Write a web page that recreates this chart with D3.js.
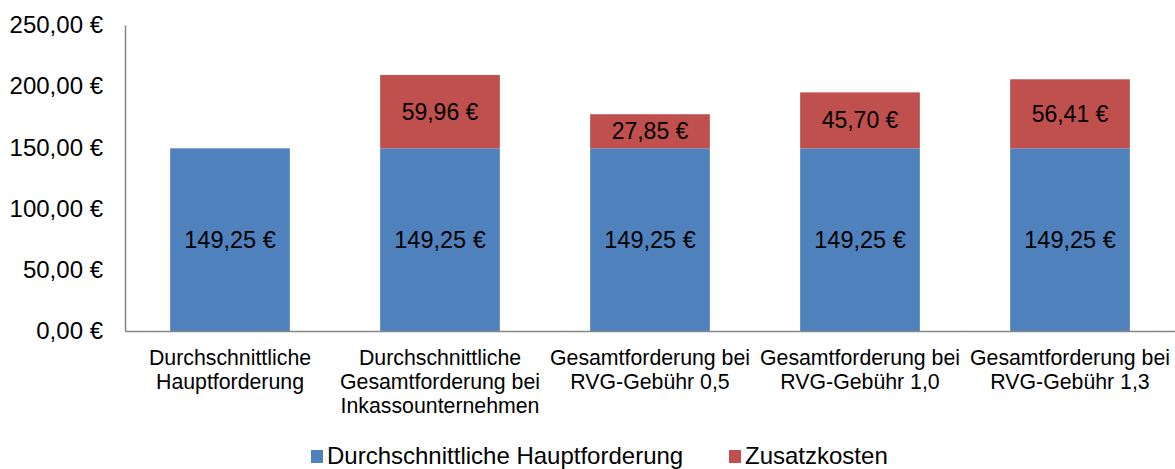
<!DOCTYPE html>
<html><head><meta charset="utf-8">
<script src="https://cdn.jsdelivr.net/npm/d3@7"></script>
<style>body{margin:0;background:#fff}svg{display:block;font-family:"Liberation Sans",Arial,sans-serif}</style>
</head><body><svg id="c" width="1175" height="469"></svg>
<script>
const categories = [
  ["Durchschnittliche","Hauptforderung"],
  ["Durchschnittliche","Gesamtforderung bei","Inkassounternehmen"],
  ["Gesamtforderung bei","RVG-Gebühr 0,5"],
  ["Gesamtforderung bei","RVG-Gebühr 1,0"],
  ["Gesamtforderung bei","RVG-Gebühr 1,3"]
];
const hauptforderung = [149.25,149.25,149.25,149.25,149.25];
const zusatzkosten = [0,59.96,27.85,45.70,56.41];
const yTicks = [0,50,100,150,200,250];
const seriesNames = ["Durchschnittliche Hauptforderung","Zusatzkosten"];
const colors = ["#4F81BD","#C0504D"];

const svg = d3.select("#c");
const fmt = v => v.toFixed(2).replace(".", ",") + " €";
const x = d3.scaleBand().domain(d3.range(categories.length)).range([125,1175]).paddingInner(0.43).paddingOuter(0.215);
const y = d3.scaleLinear().domain([0,250]).range([331,25]);

// y axis
const ya = svg.append("g").attr("transform","translate(125,0)")
  .call(d3.axisLeft(y).tickValues(yTicks).tickSize(0).tickPadding(22).tickFormat(fmt));
ya.select(".domain").attr("stroke","#868686").attr("stroke-width",1.5);
ya.selectAll("text").attr("font-size",24).attr("fill","#000").attr("font-family","Liberation Sans, Arial, sans-serif");

// bars
const stack = categories.map((c,i)=>({i, a:hauptforderung[i], b:zusatzkosten[i]}));
const g = svg.append("g");
g.selectAll("rect.a").data(stack).join("rect").attr("class","a")
  .attr("x",d=>x(d.i)).attr("width",x.bandwidth())
  .attr("y",d=>y(d.a)).attr("height",d=>y(0)-y(d.a)).attr("fill",colors[0]);
g.selectAll("rect.b").data(stack.filter(d=>d.b>0)).join("rect").attr("class","b")
  .attr("x",d=>x(d.i)).attr("width",x.bandwidth())
  .attr("y",d=>y(d.a+d.b)).attr("height",d=>y(d.a)-y(d.a+d.b)).attr("fill",colors[1]);

g.selectAll("text.la").data(stack).join("text").attr("class","la")
  .attr("x",d=>x(d.i)+x.bandwidth()/2).attr("y",d=>(y(0)+y(d.a))/2)
  .attr("dy","0.35em").attr("text-anchor","middle").attr("font-size",23.5).text(d=>fmt(d.a));
g.selectAll("text.lb").data(stack.filter(d=>d.b>0)).join("text").attr("class","lb")
  .attr("x",d=>x(d.i)+x.bandwidth()/2).attr("y",d=>(y(d.a)+y(d.a+d.b))/2)
  .attr("dy","0.35em").attr("text-anchor","middle").attr("font-size",23).text(d=>fmt(d.b));

// x axis
const xa = svg.append("g").attr("transform","translate(0,331)")
  .call(d3.axisBottom(x).tickSize(0).tickFormat(""));
xa.select(".domain").attr("stroke","#868686").attr("stroke-width",1.5);
xa.selectAll(".tick").each(function(d){
  const t = d3.select(this).append("text").attr("text-anchor","middle").attr("fill","#000").attr("font-size",21.3);
  categories[d].forEach((line,k)=>t.append("tspan").attr("x",0).attr("y",34+k*24).text(line));
});

// legend
const leg = svg.append("g");
const lx = [311,729];
seriesNames.forEach((n,k)=>{
  leg.append("rect").attr("x",lx[k]).attr("y",450).attr("width",12).attr("height",13).attr("fill",colors[k]);
  leg.append("text").attr("x",lx[k]+16).attr("y",464).attr("font-size",24).text(n);
});
</script></body></html>
